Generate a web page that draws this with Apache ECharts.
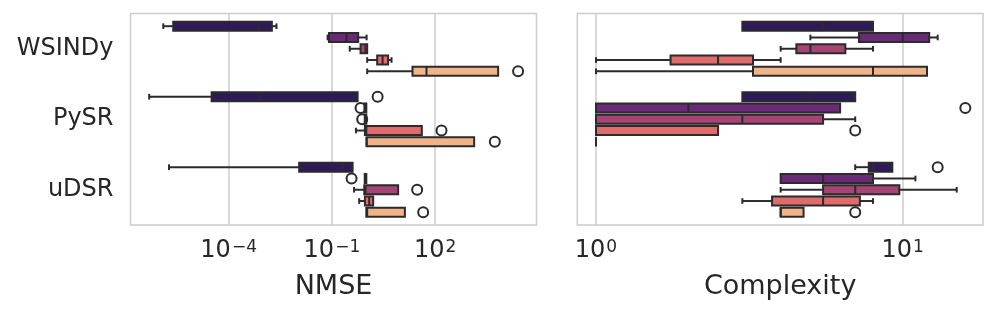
<!DOCTYPE html>
<html><head><meta charset="utf-8">
<script src="https://cdn.jsdelivr.net/npm/echarts@6/dist/echarts.min.js"></script>
<style>html,body{margin:0;padding:0;background:#fff}#c{width:997px;height:314px}</style>
</head><body><div id="c"></div><script>
// ---------------- data ----------------
const methods = ['WSINDy', 'PySR', 'uDSR'];
const hueColors = ['#2e1a58', '#6b2a78', '#a64474', '#e06b6b', '#f0b488'];

// each row: [whiskerLow, q1, median, q3, whiskerHigh] for hue 0..4
const nmseWSINDy = [[1.26e-6, 2.45e-6, 7.6e-4, 1.8e-3, 2.45e-3], [0.075, 0.082, 0.267, 0.58, 1.02], [0.33, 0.68, 0.95, 1.06, 1.06], [1.06, 2.07, 2.97, 4.3, 5.4], [1.06, 22, 56, 6760, 6760]];
const nmsePySR   = [[4.9e-7, 3.2e-5, 8.5e-4, 0.558, 0.558], [0.88, 0.88, 0.95, 1.0, 1.0], [0.9, 0.9, 0.97, 1.0, 1.0], [0.50, 0.91, 1.0, 41, 41], [1.02, 1.02, 1.02, 1360, 1360]];
const nmseUDSR   = [[1.85e-6, 0.0112, 0.205, 0.40, 0.40], [0.9, 0.9, 0.95, 1.0, 1.0], [0.44, 0.87, 0.95, 8.4, 8.4], [0.62, 0.91, 1.21, 1.58, 1.58], [1.0, 1.0, 1.06, 13.2, 13.2]];
// outliers: [methodIndex, hueIndex, value]
const nmseOutliers = [[0, 4, 25700], [1, 0, 2.13], [1, 1, 0.68], [1, 2, 0.76], [1, 3, 153], [1, 4, 5420], [2, 1, 0.373], [2, 2, 30], [2, 4, 44.9]];

const cxWSINDy = [[3, 3, 5.5, 8, 8], [5, 7.2, 10, 12.2, 13], [4, 4.5, 5, 6.5, 8], [1, 1.75, 2.5, 3.25, 4], [1, 3.25, 8, 12, 12]];
const cxPySR   = [[3, 3, 5, 7, 7], [1, 1, 2, 6.25, 6.25], [1, 1, 3, 5.5, 7], [1, 1, 1, 2.5, 2.5], [1, 1, 1, 1, 1]];
const cxUDSR   = [[7, 7.75, 8, 9.25, 9.25], [4, 4, 5.5, 8, 11], [4, 5.5, 7, 9.75, 15], [3, 3.75, 5.5, 7.25, 8], [4, 4, 4, 4.75, 4.75]];
const cxOutliers = [[1, 1, 16], [1, 3, 7], [2, 0, 13], [2, 4, 7]];

const nmseTicks = [1e-4, 1e-1, 1e2];
const cxTicks = [1, 10];
const nmseRange = [1.406e-7, 88100];
const cxRange = [0.869, 18.27];

// ---------------- build ----------------
const LINE = '#2b2b2b';
const TEXT = '#262626';
const FONT = 'DejaVu Sans';
const LW = 2;

function boxData(groups) {
  const out = [];
  groups.forEach((g, m) => g.forEach((s, h) => out.push([m, h].concat(s))));
  return out;
}

function boxRender(params, api) {
  const m = api.value(0), h = api.value(1);
  const vals = [2, 3, 4, 5, 6].map(i => api.value(i));
  const band = api.size([1, 1], [1, m])[1];
  const slot = band * 0.8 / 5;
  const cy = api.coord([vals[2], m])[1] + (h - 2) * slot;
  const xs = vals.map(v => api.coord([v, m])[0]);
  const bh = slot * 0.8, ch = slot * 0.5;
  const ls = { stroke: LINE, lineWidth: LW };
  const ch2 = [];
  if (xs[1] - xs[0] > 0.5) {
    ch2.push({ type: 'line', shape: { x1: xs[0], y1: cy, x2: xs[1], y2: cy }, style: ls });
    ch2.push({ type: 'line', shape: { x1: xs[0], y1: cy - ch / 2, x2: xs[0], y2: cy + ch / 2 }, style: ls });
  }
  if (xs[4] - xs[3] > 0.5) {
    ch2.push({ type: 'line', shape: { x1: xs[3], y1: cy, x2: xs[4], y2: cy }, style: ls });
    ch2.push({ type: 'line', shape: { x1: xs[4], y1: cy - ch / 2, x2: xs[4], y2: cy + ch / 2 }, style: ls });
  }
  ch2.push({ type: 'rect', shape: { x: xs[1], y: cy - bh / 2, width: xs[3] - xs[1], height: bh },
    style: { fill: hueColors[h], stroke: LINE, lineWidth: LW } });
  ch2.push({ type: 'line', shape: { x1: xs[2], y1: cy - bh / 2, x2: xs[2], y2: cy + bh / 2 }, style: ls });
  return { type: 'group', children: ch2 };
}

function outRender(params, api) {
  const m = api.value(0), h = api.value(1), v = api.value(2);
  const band = api.size([1, 1], [1, m])[1];
  const slot = band * 0.8 / 5;
  const p = api.coord([v, m]);
  return { type: 'circle', shape: { cx: p[0], cy: p[1] + (h - 2) * slot, r: 5 },
    style: { fill: 'none', stroke: LINE, lineWidth: LW } };
}

function labelFmt(v) {
  const e = Math.round(Math.log10(v));
  return '10{s|' + (e < 0 ? '\u2212' : '') + Math.abs(e) + '}';
}

function xAxisCfg(gi, range, ticks, name) {
  return {
    type: 'log', logBase: 10, gridIndex: gi, min: range[0], max: range[1],
    name: name, nameLocation: 'middle', nameGap: 48,
    nameTextStyle: { fontFamily: FONT, fontSize: 27, color: TEXT },
    axisLine: { show: false },
    axisTick: { show: false, customValues: ticks },
    splitLine: { show: true, lineStyle: { color: '#cccccc', width: 1.5 } },
    minorSplitLine: { show: false },
    axisLabel: {
      customValues: ticks, formatter: labelFmt, margin: 14,
      fontFamily: FONT, fontSize: 24, color: TEXT,
      rich: { s: { fontFamily: FONT, fontSize: 17, color: TEXT, verticalAlign: 'top', padding: [0, 0, 7, 1] } }
    }
  };
}

function yAxisCfg(gi, showLabels) {
  return {
    type: 'category', gridIndex: gi, data: methods, inverse: true,
    axisLine: { show: false }, axisTick: { show: false }, splitLine: { show: false },
    axisLabel: { show: showLabels, fontFamily: FONT, fontSize: 24, color: TEXT, margin: 17 }
  };
}

const option = {
  animation: false,
  backgroundColor: '#ffffff',
  grid: [
    { left: 130.5, top: 13.5, width: 406, height: 211.5, show: true, borderColor: '#cccccc', borderWidth: 1.5, backgroundColor: '#ffffff' },
    { left: 577.3, top: 13.5, width: 405.7, height: 211.5, show: true, borderColor: '#cccccc', borderWidth: 1.5, backgroundColor: '#ffffff' }
  ],
  xAxis: [xAxisCfg(0, nmseRange, nmseTicks, 'NMSE'), xAxisCfg(1, cxRange, cxTicks, 'Complexity')],
  yAxis: [yAxisCfg(0, true), yAxisCfg(1, false)],
  series: [
    { type: 'custom', xAxisIndex: 0, yAxisIndex: 0, renderItem: boxRender, data: boxData([nmseWSINDy, nmsePySR, nmseUDSR]), encode: { x: [2, 3, 4, 5, 6], y: 0 } },
    { type: 'custom', xAxisIndex: 0, yAxisIndex: 0, renderItem: outRender, data: nmseOutliers, encode: { x: 2, y: 0 } },
    { type: 'custom', xAxisIndex: 1, yAxisIndex: 1, renderItem: boxRender, data: boxData([cxWSINDy, cxPySR, cxUDSR]), encode: { x: [2, 3, 4, 5, 6], y: 0 } },
    { type: 'custom', xAxisIndex: 1, yAxisIndex: 1, renderItem: outRender, data: cxOutliers, encode: { x: 2, y: 0 } }
  ]
};

const chart = echarts.init(document.getElementById('c'), null, { renderer: 'canvas' });
chart.setOption(option);
</script></body></html>
